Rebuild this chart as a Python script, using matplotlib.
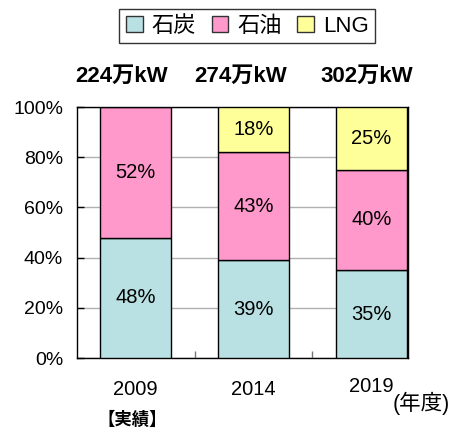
import matplotlib.pyplot as plt
from matplotlib.patches import Patch
from matplotlib.transforms import blended_transform_factory
import numpy as np

plt.rcParams['font.family'] = ['Liberation Sans', 'Noto Sans CJK JP']

years = ['2009', '2014', '2019']
totals = ['224万kW', '274万kW', '302万kW']
fuels = ['石炭', '石油', 'LNG']
coal = [48, 39, 35]
oil = [52, 43, 40]
lng = [0, 18, 25]
colors = ['#B9E0E2', '#FF99CC', '#FFFF99']

fig = plt.figure(figsize=(4.59, 4.30), dpi=100)
ax = fig.add_axes([0.1678, 0.1674, 0.7211, 0.5837])

x = np.arange(len(years))
bottom = np.zeros(len(years))
for name, vals, c in zip(fuels, [coal, oil, lng], colors):
    vals = np.array(vals)
    ax.bar(x, vals, 0.6, bottom=bottom, color=c, edgecolor='black', linewidth=1, zorder=3)
    for xi, b, v in zip(x, bottom, vals):
        if v > 0:
            ax.text(xi, b + v / 2, f'{v}%', ha='center', va='center', fontsize=14.5, zorder=4)
    bottom += vals

ax.set_xlim(-0.496, 2.31)
ax.set_ylim(0, 100)
ax.set_yticks(range(0, 101, 20))
ax.set_yticklabels([f'{v}%' for v in range(0, 101, 20)], fontsize=14)
ax.yaxis.grid(True, color='#b0b0b0', linewidth=1, zorder=0)
ax.tick_params(axis='y', direction='in', length=5, width=1, pad=10)
ax.set_xticks([0.5, 1.5])
ax.set_xticklabels([])
ax.tick_params(axis='x', direction='in', length=5, width=1, color='#777777')
for s in ax.spines.values():
    s.set_linewidth(1)

tr = blended_transform_factory(ax.transData, fig.transFigure)
ypos = [0.095, 0.095, 0.102]
for xi, yr, yy in zip(x, years, ypos):
    ax.text(xi, yy, yr, transform=tr, ha='center', va='center', fontsize=14.5)
ax.text(-0.03, 0.025, '【実績】', transform=tr, ha='center', va='center', fontsize=12.5, fontweight='bold')
fig.text(0.856, 0.063, '(年度)', ha='left', va='center', fontsize=15.5)

offs = [-0.12, -0.11, -0.04]
for xi, t, o in zip(x, totals, offs):
    ax.text(xi + o, 0.823, t, transform=tr, ha='center', va='center', fontsize=16, fontweight='bold')

handles = [Patch(facecolor=c, edgecolor='#333333', linewidth=1) for c in colors]
leg = fig.legend(handles, fuels, loc='center', bbox_to_anchor=(0.539, 0.9395), ncol=3,
                 fontsize=16, handlelength=0.75, handleheight=0.75, handletextpad=0.4,
                 columnspacing=0.7, fancybox=False, edgecolor='black', borderpad=0.3)
leg.get_frame().set_linewidth(1)

fig.savefig('out.png', dpi=100)
